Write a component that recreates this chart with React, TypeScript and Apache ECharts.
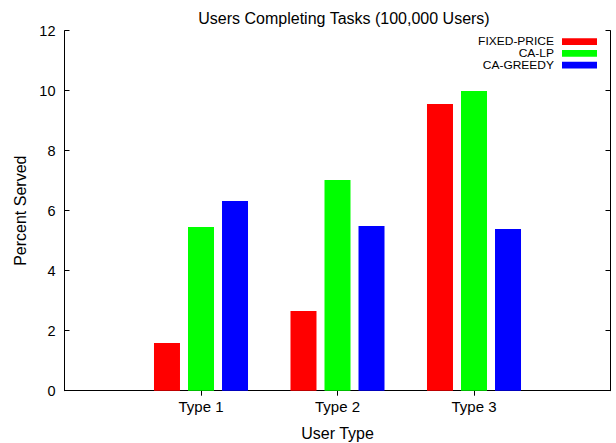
import React, { useEffect, useRef } from "react";
import * as echarts from "echarts";

const titleText = "Users Completing Tasks (100,000 Users)";
const categories = ["Type 1", "Type 2", "Type 3"];
const seriesNames = ["FIXED-PRICE", "CA-LP", "CA-GREEDY"];
const seriesColors = ["#ff0000", "#00ff00", "#0000ff"];
const fixedPrice = [1.59, 2.66, 9.56];
const caLp = [5.46, 7.02, 9.99];
const caGreedy = [6.32, 5.49, 5.39];
const yTicks = [0, 2, 4, 6, 8, 10, 12];
const xName = "User Type";
const yName = "Percent Served";

const FONT = "'Liberation Sans', Arial, Helvetica, sans-serif";

export default function App() {
  const ref = useRef<HTMLDivElement>(null);
  useEffect(() => {
    document.body.style.margin = "0";
    if (!ref.current) return;
    const chart = echarts.init(ref.current, null, { renderer: "svg" });
    const paddedCats = ["", ...categories, ""];
    const pad = (arr: number[]) => [null, ...arr, null];
    const allValues = [fixedPrice, caLp, caGreedy];
    const axisLineStyle = { color: "#000", width: 1 };
    const innerTicks = (idx: number) => idx > 0 && idx < paddedCats.length - 1;
    const legendGraphics: any[] = [];
    seriesNames.forEach((name, i) => {
      const cy = 41.7 + i * 11.7;
      legendGraphics.push({
        type: "text",
        x: 554,
        y: cy,
        scaleX: 1.2,
        style: {
          text: name,
          font: `10px ${FONT}`,
          fill: "#000",
          textAlign: "right",
          textVerticalAlign: "middle",
        },
      });
      legendGraphics.push({
        type: "rect",
        shape: { x: 562, y: cy - 3.4, width: 35, height: 6.8 },
        style: { fill: seriesColors[i] },
      });
    });
    chart.setOption({
      animation: false,
      backgroundColor: "#fff",
      title: {
        text: titleText,
        left: 339,
        textAlign: "center",
        top: 5,
        textStyle: { fontFamily: FONT, fontSize: 16, fontWeight: "normal", color: "#000" },
      },
      grid: {
        left: 64.5,
        top: 30.7,
        width: 546,
        height: 360,
        containLabel: false,
        outerBoundsMode: "none",
      },
      xAxis: [
        {
          type: "category",
          data: paddedCats,
          boundaryGap: false,
          position: "bottom",
          name: xName,
          nameLocation: "middle",
          nameGap: 35,
          nameTextStyle: { fontFamily: FONT, fontSize: 16, color: "#000" },
          axisLine: { show: true, lineStyle: axisLineStyle },
          axisTick: { show: true, inside: true, length: 5, interval: innerTicks, lineStyle: axisLineStyle },
          axisLabel: { show: true, margin: 8, fontFamily: FONT, fontSize: 15, color: "#000", interval: 0 },
          splitLine: { show: false },
        },
        {
          type: "category",
          data: paddedCats,
          boundaryGap: false,
          position: "top",
          axisLine: { show: true, lineStyle: axisLineStyle },
          axisTick: { show: true, inside: true, length: 5, interval: innerTicks, lineStyle: axisLineStyle },
          axisLabel: { show: false },
          splitLine: { show: false },
        },
      ],
      yAxis: [
        {
          type: "value",
          min: yTicks[0],
          max: yTicks[yTicks.length - 1],
          interval: 2,
          position: "left",
          name: yName,
          nameLocation: "middle",
          nameGap: 36,
          nameTextStyle: { fontFamily: FONT, fontSize: 16, color: "#000" },
          axisLine: { show: true, lineStyle: axisLineStyle },
          axisTick: { show: true, inside: true, length: 5, lineStyle: axisLineStyle },
          axisLabel: { show: true, margin: 9, fontFamily: FONT, fontSize: 14.5, color: "#000" },
          splitLine: { show: false },
        },
        {
          type: "value",
          min: yTicks[0],
          max: yTicks[yTicks.length - 1],
          interval: 2,
          position: "right",
          axisLine: { show: true, lineStyle: axisLineStyle },
          axisTick: { show: true, inside: true, length: 5, lineStyle: axisLineStyle },
          axisLabel: { show: false },
          splitLine: { show: false },
        },
      ],
      series: seriesNames.map((name, i) => ({
        name,
        type: "bar",
        xAxisIndex: 0,
        yAxisIndex: 0,
        data: pad(allValues[i]),
        barWidth: 26,
        barGap: "30.8%",
        itemStyle: { color: seriesColors[i] },
        z: 1,
      })),
      graphic: legendGraphics,
    });
    return () => chart.dispose();
  }, []);
  return <div ref={ref} style={{ width: 616, height: 443 }} />;
}
